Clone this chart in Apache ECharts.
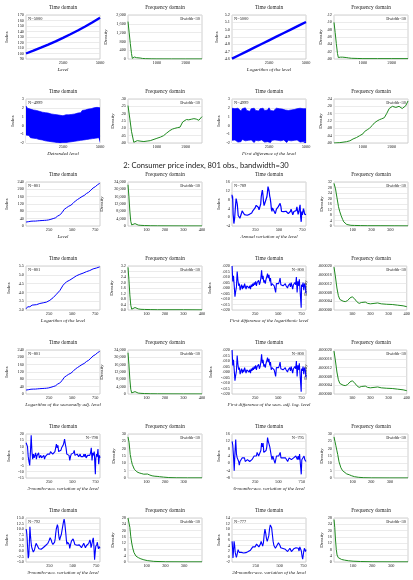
<!DOCTYPE html>
<html><head><meta charset="utf-8">
<script src="https://cdn.jsdelivr.net/npm/echarts@6/dist/echarts.min.js"></script>
<style>html,body{margin:0;padding:0;background:#fff}#c{width:413px;height:580px}</style>
</head><body><div id="c"></div>
<script>
// ---------------- DATA ----------------
// Simulated series (rows 1-2)
const simT = [0, 500, 1000, 1500, 2000, 2500, 3000, 3500, 4000, 4500, 5000];
const simLevel = [100, 105.1, 110.5, 116.2, 122.1, 128.4, 135.0, 141.9, 149.2, 156.8, 164.9];
const simLogLevel = [4.605, 4.655, 4.705, 4.755, 4.805, 4.855, 4.905, 4.955, 5.005, 5.055, 5.105];
const simFreqX = [0, 40, 80, 120, 150, 180, 220, 260, 300, 350, 420, 500, 600, 800, 1000, 1500, 2000, 2560];
const simLevelDens = [1700, 1200, 700, 250, 30, 10, 90, 100, 60, 30, 45, 25, 15, 8, 5, 4, 3, 3];
const simLogDens = [.100, .072, .042, .015, .004, .003, .005, .006, .005, .003, .004, .003, .002, .0015, .001, .001, .001, .001];

const bandT = [0,100,200,300,400,500,600,700,800,900,1000,1100,1200,1300,1400,1500,1600,1700,1800,1900,2000,2100,2200,2300,2400,2500,2600,2700,2800,2900,3000,3100,3200,3300,3400,3500,3600,3700,3800,3900,4000,4100,4200,4300,4400,4500,4600,4700,4800,4900,5000];
const detrUpper = [2.2,1.95,2.1,1.85,2.0,1.75,1.95,1.7,1.85,1.6, 1.75,1.5,1.65,1.45,1.6,1.4,1.5,1.3,1.45,1.25, 1.4,1.2,1.35,1.15,1.3,1.1,1.3,1.2,1.35,1.2, 1.4,1.25,1.45,1.3,1.5,1.4,1.6,1.45,1.7,1.55, 1.75,1.6,1.85,1.7,1.9,1.75,2.0,1.8,2.05,1.85, 2.0];
const detrLower = [-1.1,-1.3,-1.15,-1.4,-1.25,-1.45,-1.3,-1.5,-1.35,-1.6, -1.45,-1.65,-1.5,-1.75,-1.6,-1.8,-1.65,-1.85,-1.7,-1.9, -1.75,-1.95,-1.8,-2.0,-1.85,-1.95,-1.8,-1.95,-1.75,-1.9, -1.7,-1.85,-1.65,-1.8,-1.6,-1.75,-1.55,-1.7,-1.5,-1.65, -1.45,-1.6,-1.4,-1.55,-1.35,-1.5,-1.3,-1.45,-1.25,-1.4, -1.2];
const diffUpper = [1.95,1.75,1.9,1.7,1.95,1.8,1.65,1.9,1.75,2.0, 1.7,1.85,1.6,1.9,1.75,1.95,1.7,1.85,1.65,1.9, 1.8,1.95,1.7,1.85,1.75,2.0,1.7,1.9,1.65,1.85, 1.95,1.75,1.9,1.7,1.85,1.95,1.75,1.9,1.7,1.85, 1.75,1.95,1.8,1.7,1.9,1.75,1.95,1.8,1.9,1.7, 1.9];
const diffLower = [-1.7,-1.85,-1.65,-1.8,-1.9,-1.7,-1.85,-1.6,-1.8,-1.75, -1.9,-1.7,-1.85,-1.65,-1.8,-1.95,-1.7,-1.85,-1.75,-1.9, -1.65,-1.8,-1.9,-1.7,-1.85,-1.75,-1.95,-1.7,-1.8,-1.65, -1.85,-1.7,-1.9,-1.75,-1.8,-1.65,-1.85,-1.95,-1.7,-1.8, -1.75,-1.9,-1.7,-1.85,-1.65,-1.8,-1.9,-1.75,-1.85,-1.7, -1.8];
const detrFreqX = [0, 60, 120, 200, 320, 450, 550, 660, 770, 900, 1000, 1120, 1230, 1340, 1450, 1540, 1620, 1720, 1800, 1890, 2020, 2100, 2190, 2280, 2360, 2450, 2560];
const detrDens = [.255, .17, .08, .005, .016, .012, .01, .013, .016, .025, .032, .04, .05, .068, .085, .095, .10, .105, .108, .143, .16, .158, .162, .166, .163, .155, .18];
const diffFreqX = [0, 200, 430, 550, 660, 780, 890, 1000, 1060, 1150, 1230, 1320, 1400, 1490, 1570, 1650, 1740, 1820, 1910, 2020, 2140, 2250, 2360, 2480, 2560];
const diffDens = [.000, .002, .007, .012, .022, .03, .04, .05, .063, .072, .081, .095, .11, .12, .127, .132, .138, .16, .188, .20, .194, .20, .188, .203, .229];

// Consumer price index (rows 3-7): [observation, value]
const cpiLevel = [[1,21.5],[6,22.3],[18,24.1],[30,23.8],[42,24.1],[54,26.0],[66,26.5],[78,26.7],[90,26.9],[102,26.8],[114,27.2],[126,28.1],[138,28.9],[150,29.1],[162,29.6],[174,29.9],[186,30.2],[198,30.6],[210,31.0],[222,31.5],[234,32.4],[246,33.4],[258,34.8],[270,36.7],[282,38.8],[294,40.5],[306,41.8],[318,44.4],[330,49.3],[342,53.8],[354,56.9],[366,60.6],[378,65.2],[390,72.6],[402,82.4],[414,90.9],[426,96.5],[438,99.6],[450,103.9],[462,107.6],[474,109.6],[486,113.6],[498,118.3],[510,124.0],[522,130.7],[534,136.2],[546,140.3],[558,144.5],[570,148.2],[582,152.4],[594,156.9],[606,160.5],[618,163.0],[630,166.6],[642,172.2],[654,177.1],[666,179.9],[678,184.0],[690,188.9],[702,195.3],[714,201.6],[726,207.3],[738,215.3],[750,214.5],[762,218.1],[774,224.9],[786,229.6],[798,233.0],[801,233.5]];
const cpiLog = [[1,3.068],[6,3.105],[18,3.182],[30,3.170],[42,3.182],[54,3.258],[66,3.277],[78,3.285],[114,3.303],[150,3.371],[186,3.408],[222,3.450],[258,3.550],[294,3.701],[330,3.898],[366,4.104],[402,4.412],[438,4.601],[474,4.697],[510,4.820],[546,4.944],[582,5.026],[618,5.094],[654,5.177],[690,5.241],[726,5.334],[762,5.385],[798,5.451],[801,5.453]];
const annualVar = [[0,10.2],[4,8.5],[6,9.5],[9,6.5],[12,1.3],[16,-0.5],[20,-2.9],[24,-2.1],[28,-0.5],[32,2],[38,5.5],[44,8.5],[48,9.4],[52,8.0],[56,6],[62,3],[66,0.8],[72,0.5],[78,1.1],[84,-0.5],[90,-0.7],[96,0.4],[102,1.9],[108,2.9],[114,3.5],[120,3.6],[126,2.4],[132,1.2],[138,1.5],[144,1.0],[150,1.7],[156,1.6],[162,0.9],[168,0.7],[174,1.2],[180,1.3],[186,1.3],[192,1.6],[198,1.2],[204,1.0],[210,1.9],[216,1.9],[222,2.9],[228,3.5],[234,2.7],[240,3.0],[246,4.2],[252,4.4],[258,5.4],[264,6.2],[270,5.9],[276,5.3],[282,4.4],[288,3.3],[294,2.8],[300,3.6],[306,6.0],[312,9.4],[318,11.1],[324,12.3],[330,10.2],[336,7.0],[342,5.3],[348,5.2],[354,6.9],[360,6.8],[366,7.7],[372,9.3],[378,11.3],[384,13.9],[388,14.8],[392,13.1],[396,11.8],[402,9.6],[408,8.4],[414,6.4],[420,3.7],[426,2.6],[432,4.2],[438,4.2],[444,3.5],[450,3.8],[456,3.9],[462,1.6],[464,1.1],[468,1.5],[474,3.7],[480,4.4],[486,4.0],[492,4.7],[498,5.2],[504,5.2],[510,4.7],[513,6.3],[516,5.7],[522,4.7],[528,2.6],[534,3.1],[540,3.3],[546,3.0],[552,2.5],[558,2.5],[564,2.8],[570,3.0],[576,2.7],[582,2.8],[588,3.0],[594,2.3],[600,1.6],[606,1.7],[612,1.7],[618,2.0],[624,2.7],[630,3.7],[636,3.7],[642,3.2],[648,1.1],[654,1.1],[660,2.6],[666,2.1],[672,1.9],[678,3.3],[684,3.0],[690,3.2],[692,4.7],[696,4.0],[702,4.3],[705,1.3],[708,2.1],[714,2.7],[720,4.3],[726,5.6],[732,0.1],[738,-2.1],[744,2.6],[750,1.1],[756,1.6],[762,3.9],[768,2.9],[774,1.4],[780,1.6],[786,1.5],[789,1.2]];
const logDiff = [[1,.020],[8,.006],[16,.011],[24,.002],[32,-.008],[40,-.003],[48,.001],[56,.015],[64,.007],[72,.002],[80,.004],[88,-.002],[96,.001],[104,.003],[112,-.001],[120,.002],[128,.000],[136,.004],[144,.003],[152,-.001],[160,.002],[168,.001],[176,.003],[184,.000],[192,.002],[200,-.001],[208,.003],[216,.001],[224,.004],[232,.002],[240,.005],[248,.003],[256,.006],[264,.002],[272,.005],[280,.004],[288,.007],[296,.003],[304,.005],[312,.009],[320,.016],[328,.008],[336,.011],[344,.005],[352,.007],[360,.004],[368,.008],[376,.010],[384,.013],[392,.009],[400,.012],[408,.006],[416,.009],[424,.002],[432,.004],[440,.003],[448,.005],[456,.002],[464,.003],[472,-.004],[480,.004],[488,.005],[496,.003],[504,.004],[512,.006],[520,.009],[528,.003],[536,.002],[544,.004],[552,.002],[560,.003],[568,.001],[576,.004],[584,.002],[592,.003],[600,.000],[608,.002],[616,.003],[624,.004],[632,.001],[640,.005],[648,.002],[656,-.001],[664,.003],[672,.002],[680,.005],[688,.003],[696,.010],[704,-.004],[712,.006],[720,.002],[728,.008],[736,.009],[748,-.018],[752,.003],[760,.001],[768,.005],[776,-.002],[784,.004],[792,.002],[800,-.005]];
const acc3 = [[1,13],[8,14],[16,10],[24,2],[32,-2],[40,-5],[48,6],[56,19],[64,6],[72,0],[80,4],[88,1],[96,2],[104,5],[112,0],[120,3],[128,2],[136,5],[144,1],[152,0],[160,3],[168,1],[176,2],[184,1],[192,3],[200,0],[208,2],[216,3],[224,2],[232,4],[240,3],[248,5],[256,4],[264,6],[272,5],[280,7],[288,4],[296,3],[304,5],[312,6],[320,9],[328,12],[336,9],[344,11],[352,6],[360,5],[368,6],[376,7],[384,9],[392,8],[400,11],[408,13],[416,16],[424,12],[432,9],[440,4],[448,3],[456,5],[464,3],[472,-1],[480,2],[488,4],[496,5],[504,4],[512,5],[520,7],[528,3],[536,3],[544,2],[552,4],[560,3],[568,2],[576,3],[584,4],[592,2],[600,1],[608,3],[616,2],[624,4],[632,2],[640,4],[648,1],[656,2],[664,3],[672,2],[680,4],[688,3],[696,5],[704,9],[712,-1],[720,5],[728,3],[736,6],[748,-12],[752,0],[760,4],[768,2],[776,8],[784,-4],[792,3],[798,1]];
const acc6 = [[1,12],[8,10],[16,4],[24,-4],[32,6],[40,13],[48,5],[56,3],[64,4],[72,1],[78,-1],[86,1],[94,2],[102,1],[110,3],[118,4],[126,2],[134,3],[142,1],[150,2],[158,1],[166,2],[174,1],[182,2],[190,1],[198,2],[206,1],[214,2],[222,3],[230,3],[238,4],[246,3],[254,5],[262,4],[270,6],[278,5],[286,4],[294,3],[302,4],[310,7],[318,11],[326,9],[334,11],[342,6],[350,5],[358,6],[366,7],[374,9],[382,14],[390,12],[398,11],[406,9],[414,8],[422,4],[430,2],[438,4],[446,3],[454,4],[462,0],[470,1],[478,4],[486,4],[494,5],[502,4],[510,5],[518,6],[526,3],[534,3],[542,2],[550,3],[558,3],[566,2],[574,3],[582,3],[590,2],[598,1],[606,2],[614,3],[622,3],[630,4],[638,2],[646,2],[654,1],[662,3],[670,2],[678,3],[686,4],[694,5],[702,2],[710,4],[718,2],[726,5],[734,5],[744,-6],[750,2],[758,1],[766,3],[774,4],[782,2],[790,3],[795,1]];
const acc9 = [[1,10],[6,9],[12,6],[18,1],[24,-3.3],[30,-2],[36,4],[42,11],[48,7],[54,4],[60,2],[66,1],[72,0.5],[78,-0.5],[84,-0.3],[90,0.5],[96,1.5],[102,2.5],[108,3.5],[114,4],[120,3],[126,2],[132,1.5],[138,1],[144,1.8],[150,1.2],[156,1.5],[162,0.8],[168,1.2],[174,1.4],[180,1.2],[186,1.6],[192,1.3],[198,1.5],[204,2],[210,2.5],[216,3.4],[222,3.2],[228,2.8],[234,3.5],[240,4.2],[246,4.6],[252,5.5],[258,6],[264,5.6],[270,5],[276,4],[282,3.2],[288,3],[294,3.2],[300,3.5],[306,4],[312,5.5],[318,8],[324,10],[330,11],[336,12],[342,11],[348,8],[354,6],[360,5],[366,6],[372,6.5],[378,7.5],[384,9],[390,10.5],[396,12],[402,13.5],[408,14.5],[414,13],[420,10.5],[426,8],[432,5],[438,3],[444,4],[450,4],[456,3.5],[462,3],[468,1.2],[474,1.5],[480,3.5],[486,4.5],[492,5],[498,5],[504,5.5],[510,6],[516,4],[522,3],[528,2.8],[534,3.2],[540,3],[546,2.6],[552,2.8],[558,2.6],[564,3],[570,2.8],[576,3.2],[582,2.5],[588,2],[594,1.5],[600,1.8],[606,2],[612,2.4],[618,3.5],[624,3.6],[630,3],[636,1.5],[642,1],[648,2.5],[654,2.4],[660,1.8],[666,3],[672,3.5],[678,3.2],[684,5],[690,4],[696,1.5],[702,2.5],[708,3],[714,5],[720,6],[726,3],[734,-4],[740,-1],[746,2],[752,1.5],[758,3],[764,4],[770,2],[776,1],[782,2],[788,1.5],[792,1.2]];
const acc24 = [[1,5.5],[6,3],[10,-0.5],[16,2],[22,5.5],[28,4],[34,1.5],[40,0.5],[46,-0.3],[52,0.5],[58,1.5],[64,2.5],[70,2],[76,1.5],[82,1.2],[90,1.8],[98,1.5],[106,1.2],[114,1],[122,1.3],[130,1.1],[138,1.2],[146,1.4],[154,1.3],[162,1.5],[170,1.8],[178,2.0],[186,2.2],[194,2.3],[202,2.5],[210,3],[218,3.5],[226,3.2],[234,3],[242,3.5],[250,4],[258,4.5],[266,4.8],[274,4.2],[282,3.5],[290,3.2],[298,4.5],[306,5.5],[314,5.2],[322,3.8],[330,5],[338,8],[346,10],[354,8.5],[362,6.5],[370,5.5],[378,6],[386,7.5],[394,10],[402,11.5],[408,12],[416,10.5],[424,8],[432,5.5],[440,4],[448,3.5],[456,3],[464,3.5],[472,4],[480,4.5],[488,5],[496,4.5],[504,4],[512,3.2],[520,3],[528,2.8],[536,2.9],[544,2.7],[552,2.8],[560,2.6],[568,2.5],[576,2.2],[584,1.8],[592,2],[600,2.5],[608,3],[616,2.5],[624,1.8],[632,2],[640,2.2],[648,2.8],[656,3],[664,3.4],[672,3.2],[680,3],[688,3.8],[696,3],[704,2],[712,3.5],[720,4],[728,2],[736,0],[742,-1],[748,0.5],[754,2],[760,3],[766,2.5],[772,1.8],[777,2.5]];

// Frequency domain, CPI
const cpiFreqX = [0, 5, 10, 15, 20, 25, 30, 38, 45, 55, 70, 90, 120, 160, 200, 300, 400];
const cpiLevelDens = [22500, 16000, 8000, 2500, 600, 500, 1000, 1300, 900, 500, 350, 250, 150, 100, 80, 50, 30];
const cpiLogDens = [3.1, 2.2, 1.1, 0.35, 0.06, 0.08, 0.15, 0.18, 0.12, 0.08, 0.05, 0.04, 0.03, 0.02, 0.02, 0.02, 0.01];
const annualFreqX = [0, 8, 16, 24, 30, 38, 46, 52, 59, 68, 77, 90, 110, 140, 180, 250, 320, 394];
const annualDens = [31, 27, 20.4, 14, 10.8, 7.5, 4.8, 3, 1.7, 1.1, 0.7, 0.5, 0.4, 0.3, 0.2, 0.2, 0.15, 0.1];
const logDiffFreqX = [0, 8, 16, 24, 32, 40, 50, 62, 75, 88, 100, 112, 125, 138, 150, 160, 172, 185, 200, 220, 240, 260, 290, 320, 350, 380, 400];
const logDiffDens = [19.5e-6, 15e-6, 10e-6, 6.5e-6, 4.8e-6, 4.2e-6, 4.0e-6, 3.8e-6, 4.3e-6, 5.5e-6, 6.0e-6, 5.2e-6, 3.8e-6, 3.0e-6, 3.4e-6, 4.0e-6, 3.6e-6, 3.0e-6, 2.8e-6, 3.0e-6, 3.2e-6, 2.8e-6, 2.6e-6, 2.5e-6, 2.2e-6, 1.9e-6, 1.5e-6];
const acc3FreqX = [0, 6, 12, 18, 23, 29, 34, 41, 48, 60, 71, 85, 95, 105, 118, 130, 145, 157, 170, 192, 220, 260, 320, 399];
const acc3Dens = [28, 24, 16, 12, 9.3, 7.5, 6, 5, 4.2, 3.5, 3.1, 2.6, 3.0, 2.7, 2.0, 1.5, 1.2, 1.1, 0.9, 0.6, 0.3, 0.15, 0.1, 0.1];
const acc6FreqX = [0, 5, 10, 15, 20, 27, 37, 46, 55, 68, 82, 95, 110, 130, 160, 200, 300, 397];
const acc6Dens = [28, 25, 22, 19, 16, 11, 7, 5, 3.8, 2.8, 2.2, 1.5, 0.9, 0.5, 0.2, 0.1, 0.05, 0.05];
const acc9FreqX = [0, 5, 10, 15, 20, 25, 32, 43, 55, 69, 85, 103, 138, 200, 300, 396];
const acc9Dens = [28, 27.4, 22, 16, 12, 9, 6, 3.7, 2.8, 2, 1.4, 0.9, 0.4, 0.15, 0.1, 0.1];
const acc24FreqX = [0, 4, 8, 12, 16, 22, 30, 40, 55, 75, 100, 140, 200, 300, 388];
const acc24Dens = [27, 22, 14, 8, 4.5, 2.8, 2, 1.6, 1.2, 0.8, 0.5, 0.3, 0.15, 0.1, 0.1];

// Tick labels
const tkSimLevel = ['90','100','110','120','130','140','150','160','170'];
const tkSimLevelDens = ['0','400','800','1,200','1,600','2,000'];
const tkSimLog = ['4.6','4.7','4.8','4.9','5.0','5.1','5.2'];
const tkSimLogDens = ['.00','.02','.04','.06','.08','.10','.12'];
const tkBand = ['-2','-1','0','1','2','3'];
const tkDetrDens = ['.00','.05','.10','.15','.20','.25','.30'];
const tkDiffDens = ['.00','.04','.08','.12','.16','.20','.24'];
const tkCpi = ['0','40','80','120','160','200','240'];
const tkCpiDens = ['0','4,000','8,000','12,000','16,000','20,000','24,000'];
const tkAnnual = ['-4','0','4','8','12','16'];
const tkAnnualDens = ['0','4','8','12','16','20','24','28','32'];
const tkCpiLog = ['3.0','3.5','4.0','4.5','5.0','5.5'];
const tkCpiLogDens = ['0.0','0.4','0.8','1.2','1.6','2.0','2.4','2.8','3.2'];
const tkLogDiff = ['-.020','-.015','-.010','-.005','.000','.005','.010','.015','.020'];
const tkLogDiffDens = ['.000000','.000004','.000008','.000012','.000016','.000020'];
const tkAcc3 = ['-15','-10','-5','0','5','10','15','20'];
const tkDens30 = ['0','5','10','15','20','25','30'];
const tkAcc6 = ['-8','-4','0','4','8','12','16'];
const tkAcc9 = ['-5.0','-2.5','0.0','2.5','5.0','7.5','10.0','12.5','15.0'];
const tkDens28 = ['0','4','8','12','16','20','24','28'];
const tkAcc24 = ['-2','0','2','4','6','8','10','12','14'];
const xtSimTime = [2500, 5000];
const xtSimFreq = [1000, 2000];
const xtCpiTime = [250, 500, 750];
const xtCpiFreq4 = [100, 200, 300, 400];
const xtCpiFreq3 = [100, 200, 300];

const mainTitle = '2: Consumer price index, 801 obs., bandwidth=30';

// ---------------- LAYOUT / BUILD ----------------
const rowTop = [15, 99, 182, 266, 350, 434, 518];
const colLeft = [26, 128, 232, 334];
const plotW = 74, plotH = 44;
const BLUE = '#0000ff', GREEN = '#1f8a1f';
const SERIF = 'Liberation Serif';

function pairs(xs, ys) { return xs.map((x, i) => [x, ys[i]]); }

const panels = [
  {r:0,c:0,kind:'time',data:pairs(simT,simLevel),lw:2.4,y:[90,170,10],tk:tkSimLevel,x:[0,5000,2500],xt:xtSimTime,n:'N=5000',np:'l',xname:'Level',gap:16.5},
  {r:0,c:1,kind:'freq',data:pairs(simFreqX,simLevelDens),y:[0,2000,400],tk:tkSimLevelDens,x:[0,2560,1000],xt:xtSimFreq,gap:19.5},
  {r:0,c:2,kind:'time',data:pairs(simT,simLogLevel),lw:2.4,y:[4.6,5.2,0.1],tk:tkSimLog,x:[0,5000,2500],xt:xtSimTime,n:'N=5000',np:'l',xname:'Logarithm of the level',gap:12.5},
  {r:0,c:3,kind:'freq',data:pairs(simFreqX,simLogDens),y:[0,0.12,0.02],tk:tkSimLogDens,x:[0,2560,1000],xt:xtSimFreq,gap:10.5},

  {r:1,c:0,kind:'band',up:pairs(bandT,detrUpper),lo:pairs(bandT,detrLower),y:[-2,3,1],tk:tkBand,x:[0,5000,2500],xt:xtSimTime,n:'N=4999',np:'l',xname:'Detrended level',gap:10.5},
  {r:1,c:1,kind:'freq',data:pairs(detrFreqX,detrDens),y:[0,0.3,0.05],tk:tkDetrDens,x:[0,2560,1000],xt:xtSimFreq,gap:12.5},
  {r:1,c:2,kind:'band',up:pairs(bandT,diffUpper),lo:pairs(bandT,diffLower),y:[-2,3,1],tk:tkBand,x:[0,5000,2500],xt:xtSimTime,n:'N=4999',np:'l',xname:'First difference of the level',gap:10.5},
  {r:1,c:3,kind:'freq',data:pairs(diffFreqX,diffDens),y:[0,0.24,0.04],tk:tkDiffDens,x:[0,2560,1000],xt:xtSimFreq,gap:10.5},

  {r:2,c:0,kind:'time',data:cpiLevel,lw:1,y:[0,240,40],tk:tkCpi,x:[0,801,250],xt:xtCpiTime,n:'N=801',np:'l',xname:'Level',gap:16.5},
  {r:2,c:1,kind:'freq',data:pairs(cpiFreqX,cpiLevelDens),y:[0,24000,4000],tk:tkCpiDens,x:[0,400,100],xt:xtCpiFreq4,gap:23.5},
  {r:2,c:2,kind:'time',data:annualVar,lw:1.2,y:[-4,16,4],tk:tkAnnual,x:[0,789,250],xt:xtCpiTime,n:'N=789',np:'l',xname:'Annual variation of the level',gap:10.5},
  {r:2,c:3,kind:'freq',data:pairs(annualFreqX,annualDens),y:[0,32,4],tk:tkAnnualDens,x:[0,394,100],xt:xtCpiFreq3,gap:8.5},

  {r:3,c:0,kind:'time',data:cpiLog,lw:1,y:[3,5.5,0.5],tk:tkCpiLog,x:[0,801,250],xt:xtCpiTime,n:'N=801',np:'l',xname:'Logarithm of the level',gap:14.5},
  {r:3,c:1,kind:'freq',data:pairs(cpiFreqX,cpiLogDens),y:[0,3.2,0.4],tk:tkCpiLogDens,x:[0,400,100],xt:xtCpiFreq4,gap:13.5},
  {r:3,c:2,kind:'time',data:logDiff,lw:1.1,y:[-0.02,0.02,0.005],tk:tkLogDiff,x:[0,800,250],xt:xtCpiTime,n:'N=800',np:'r',xname:'First difference of the logarithmic level',gap:19.5},
  {r:3,c:3,kind:'freq',data:pairs(logDiffFreqX,logDiffDens),y:[0,0.00002,0.000004],tk:tkLogDiffDens,x:[0,400,100],xt:xtCpiFreq4,gap:25.5},

  {r:4,c:0,kind:'time',data:cpiLevel,lw:1,y:[0,240,40],tk:tkCpi,x:[0,801,250],xt:xtCpiTime,n:'N=801',np:'l',xname:'Logarithm of the seasonally adj. level',gap:16.5},
  {r:4,c:1,kind:'freq',data:pairs(cpiFreqX,cpiLevelDens),y:[0,24000,4000],tk:tkCpiDens,x:[0,400,100],xt:xtCpiFreq4,gap:23.5},
  {r:4,c:2,kind:'time',data:logDiff,lw:1.1,y:[-0.02,0.02,0.005],tk:tkLogDiff,x:[0,800,250],xt:xtCpiTime,n:'N=800',np:'r',xname:'First difference of the seas. adj. log. level',gap:18.5},
  {r:4,c:3,kind:'freq',data:pairs(logDiffFreqX,logDiffDens),y:[0,0.00002,0.000004],tk:tkLogDiffDens,x:[0,400,100],xt:xtCpiFreq4,gap:25.5},

  {r:5,c:0,kind:'time',data:acc3,lw:1.1,y:[-15,20,5],tk:tkAcc3,x:[0,798,250],xt:xtCpiTime,n:'N=798',np:'r',xname:'3-months-acc. variation of the level',gap:14.5},
  {r:5,c:1,kind:'freq',data:pairs(acc3FreqX,acc3Dens),y:[0,30,5],tk:tkDens30,x:[0,399,100],xt:xtCpiFreq3,gap:11.5},
  {r:5,c:2,kind:'time',data:acc6,lw:1.1,y:[-8,16,4],tk:tkAcc6,x:[0,795,250],xt:xtCpiTime,n:'N=795',np:'r',xname:'6-months-acc. variation of the level',gap:10.5},
  {r:5,c:3,kind:'freq',data:pairs(acc6FreqX,acc6Dens),y:[0,30,5],tk:tkDens30,x:[0,397,100],xt:xtCpiFreq3,gap:8.5},

  {r:6,c:0,kind:'time',data:acc9,lw:1.1,y:[-5,15,2.5],tk:tkAcc9,x:[0,792,250],xt:xtCpiTime,n:'N=792',np:'l',xname:'9-months-acc. variation of the level',gap:16.5},
  {r:6,c:1,kind:'freq',data:pairs(acc9FreqX,acc9Dens),y:[0,28,4],tk:tkDens28,x:[0,396,100],xt:xtCpiFreq3,gap:12.5},
  {r:6,c:2,kind:'time',data:acc24,lw:1.1,y:[-2,14,2],tk:tkAcc24,x:[0,777,250],xt:xtCpiTime,n:'N=777',np:'l',xname:'24-months-acc. variation of the level',gap:10.5},
  {r:6,c:3,kind:'freq',data:pairs(acc24FreqX,acc24Dens),y:[0,28,4],tk:tkDens28,x:[0,388,100],xt:xtCpiFreq3,gap:9.5}
];

const grids = [], xAxes = [], yAxes = [], series = [], texts = [];
function txt(x, y, s, font, align) {
  texts.push({type:'text', silent:true, z:10, style:{x, y, text:s, font, fill:'#222',
    align: align || 'center', textAlign: align || 'center', verticalAlign:'middle', textVerticalAlign:'middle'}});
}

panels.forEach((p, k) => {
  const left = colLeft[p.c], top = rowTop[p.r];
  grids.push({left, top, width: plotW, height: plotH, show: true, borderColor: '#c4c4c4', borderWidth: 0.8, backgroundColor: '#fff'});
  const xt = p.xt;
  xAxes.push({
    gridIndex: k, type: 'value', min: p.x[0], max: p.x[1], interval: p.x[2],
    axisLine: {show: false}, axisTick: {show: false}, splitLine: {show: false},
    axisLabel: {fontFamily: SERIF, fontSize: 4.3, color: '#222', margin: 1.5, showMinLabel: true, showMaxLabel: true,
      formatter: v => xt.some(t => Math.abs(t - v) < 1e-6) ? String(v) : ''},
    name: p.xname || '', nameLocation: 'middle', nameGap: 8,
    nameTextStyle: {fontFamily: SERIF, fontSize: 5, fontStyle: 'italic', color: '#222'}
  });
  const ymin = p.y[0], yint = p.y[2], tk = p.tk;
  yAxes.push({
    gridIndex: k, type: 'value', min: p.y[0], max: p.y[1], interval: p.y[2],
    axisLine: {show: false}, axisTick: {show: false},
    splitLine: {show: true, lineStyle: {color: '#e2e2e2', width: 0.7}},
    axisLabel: {fontFamily: SERIF, fontSize: 4.3, color: '#222', margin: 2,
      formatter: v => { const i = Math.round((v - ymin) / yint); return tk[i] !== undefined ? tk[i] : ''; }},
    name: p.kind === 'freq' ? 'Density' : 'Index', nameLocation: 'middle', nameRotate: 90, nameGap: p.gap,
    nameTextStyle: {fontFamily: SERIF, fontSize: 5, color: '#222'}
  });
  if (p.kind === 'band') {
    // upper envelope filled down to the axis start in blue, lower envelope filled in white above it
    series.push({type: 'line', xAxisIndex: k, yAxisIndex: k, data: p.up, z: 2,
      symbol: 'none', lineStyle: {width: 0.7, color: BLUE},
      areaStyle: {origin: 'start', color: BLUE, opacity: 1}, silent: true, animation: false});
    series.push({type: 'line', xAxisIndex: k, yAxisIndex: k, data: p.lo, z: 3,
      symbol: 'none', lineStyle: {width: 0.7, color: BLUE},
      areaStyle: {origin: 'start', color: '#ffffff', opacity: 1}, silent: true, animation: false});
  } else {
    series.push({type: 'line', xAxisIndex: k, yAxisIndex: k, data: p.data, symbol: 'none', clip: true,
      lineStyle: {width: p.kind === 'freq' ? 1 : p.lw, color: p.kind === 'freq' ? GREEN : BLUE},
      silent: true, animation: false});
  }
  txt(left + plotW / 2, top - 7, p.kind === 'freq' ? 'Frequency domain' : 'Time domain', '5.3px ' + SERIF);
  if (p.kind === 'freq') {
    txt(left + plotW - 2, top + 4, 'Bwidth=30', '4.4px ' + SERIF, 'right');
  } else if (p.n) {
    if (p.np === 'r') txt(left + plotW - 2, top + 4, p.n, '4.4px ' + SERIF, 'right');
    else txt(left + 2, top + 4, p.n, '4.4px ' + SERIF, 'left');
  }
});

texts.push({type:'text', silent:true, style:{x: 206, y: 166, text: mainTitle, font: '7.6px Lato', fill: '#222',
  align:'center', textAlign:'center', verticalAlign:'middle', textVerticalAlign:'middle'}});

const chart = echarts.init(document.getElementById('c'), null, {renderer: 'canvas'});
chart.setOption({
  backgroundColor: '#fff',
  animation: false,
  grid: grids, xAxis: xAxes, yAxis: yAxes, series,
  graphic: {elements: texts}
});
</script></body></html>
